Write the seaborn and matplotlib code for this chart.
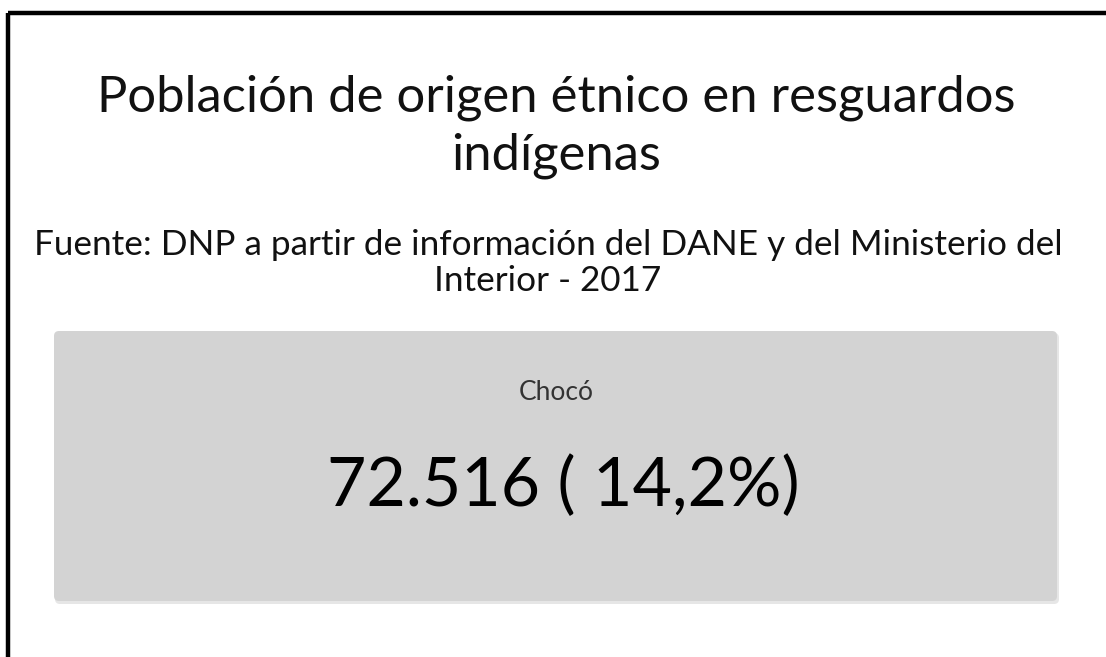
import seaborn as sns
import matplotlib.pyplot as plt
from matplotlib.patches import FancyBboxPatch

# Datos del indicador
titulo = "Población de origen étnico en resguardos\nindígenas"
fuente = "Fuente: DNP a partir de información del DANE y del Ministerio del\nInterior - 2017"
departamento = "Chocó"
poblacion = 72516
porcentaje = 14.2

sns.set_theme(style="white")
plt.rcParams['font.family'] = ['Lato', 'DejaVu Sans']

fig = plt.figure(figsize=(11.06, 6.57), dpi=100)
ax = fig.add_axes([0, 0, 1, 1])
ax.set_xlim(0, 1106)
ax.set_ylim(657, 0)
ax.axis('off')

# Marco negro (arriba e izquierda)
ax.plot([8, 1106], [13, 13], color='black', lw=3.2, solid_capstyle='butt')
ax.plot([8, 8], [13, 657], color='black', lw=3.2, solid_capstyle='butt')

# Tarjeta gris con sombra suave
sombra = FancyBboxPatch((55, 333), 1004, 271, boxstyle="round,pad=0,rounding_size=5",
                        facecolor='#e6e6e6', edgecolor='none')
ax.add_patch(sombra)
tarjeta = FancyBboxPatch((54, 331), 1003, 270, boxstyle="round,pad=0,rounding_size=5",
                         facecolor='#d3d3d3', edgecolor='none')
ax.add_patch(tarjeta)

ax.text(556, 127, titulo, ha='center', va='center', fontsize=36.5,
        color='#111111', linespacing=1.3)
ax.text(548, 263, fuente, ha='center', va='center', fontsize=25.3,
        color='#111111', linespacing=1.12)

ax.text(556, 392, departamento, ha='center', va='center', fontsize=19, color='#333333')

valor = f"{poblacion:,}".replace(",", ".")
pct = f"{porcentaje:.1f}".replace(".", ",")
ax.text(563, 487, f"{valor} ( {pct}%)", ha='center', va='center', fontsize=49,
        color='black')

fig.savefig('out.png', dpi=100, facecolor='white')
